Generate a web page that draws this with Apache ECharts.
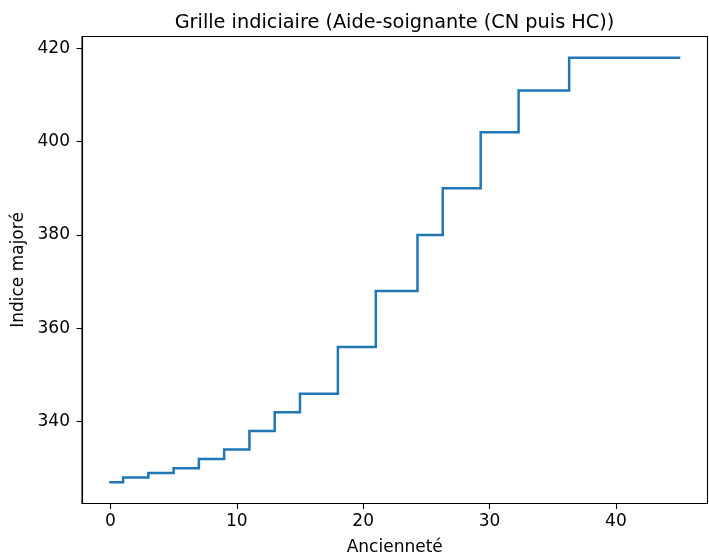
<!DOCTYPE html>
<html>
<head>
<meta charset="utf-8">
<script src="https://cdn.jsdelivr.net/npm/echarts@6/dist/echarts.min.js"></script>
<style>html,body{margin:0;padding:0;background:#fff}#c{width:709px;height:555px}</style>
</head>
<body>
<div id="c"></div>
<script>
const titleText = 'Grille indiciaire (Aide-soignante (CN puis HC))';
const xName = 'Ancienneté';
const yName = 'Indice majoré';
const anciennete = [0, 1, 3, 5, 7, 9, 11, 13, 15, 18, 21, 24.3, 26.3, 29.3, 32.3, 36.3, 45];
const indice = [327, 328, 329, 330, 332, 334, 338, 342, 346, 356, 368, 380, 390, 402, 411, 418, 418];
const xTicks = [0, 10, 20, 30, 40];
const yTicks = [340, 360, 380, 400, 420];

const font = 'DejaVu Sans';
const chart = echarts.init(document.getElementById('c'), null, {renderer: 'canvas'});
const data = anciennete.map((x, i) => [x, indice[i]]);
const axisCommon = {
  axisLine: {show: true, onZero: false, lineStyle: {color: '#000', width: 1.1}},
  axisTick: {show: true, length: 5.5, lineStyle: {color: '#000', width: 1.1}},
  splitLine: {show: false},
  nameTextStyle: {color: '#000', fontFamily: font, fontSize: 17},
};
chart.setOption({
  animation: false,
  backgroundColor: '#fff',
  title: {
    text: titleText,
    left: 389.5, top: 8, textAlign: 'center',
    textStyle: {fontFamily: font, fontSize: 19.3, fontWeight: 'normal', color: '#000'}
  },
  grid: {left: 82, right: 1.5, top: 36.5, bottom: 51.5, containLabel: false, outerBoundsMode: 'none',
         show: true, borderColor: '#000', borderWidth: 1.1, backgroundColor: 'transparent'},
  xAxis: Object.assign({}, axisCommon, {
    type: 'value', min: -2.25, max: 47.25,
    name: xName, nameLocation: 'middle', nameGap: 36,
    axisTick: Object.assign({}, axisCommon.axisTick, {customValues: xTicks}),
    axisLabel: {customValues: xTicks, color: '#000', fontFamily: font, fontSize: 17, margin: 10}
  }),
  yAxis: Object.assign({}, axisCommon, {
    type: 'value', min: 322.45, max: 422.55,
    name: yName, nameLocation: 'middle', nameGap: 50,
    axisTick: Object.assign({}, axisCommon.axisTick, {customValues: yTicks}),
    axisLabel: {customValues: yTicks, color: '#000', fontFamily: font, fontSize: 17, margin: 12}
  }),
  series: [{
    type: 'line', step: 'end', data: data, symbol: 'none',
    lineStyle: {color: '#1f77b4', width: 2.5, cap: 'square', join: 'miter'}
  }]
});
</script>
</body>
</html>
